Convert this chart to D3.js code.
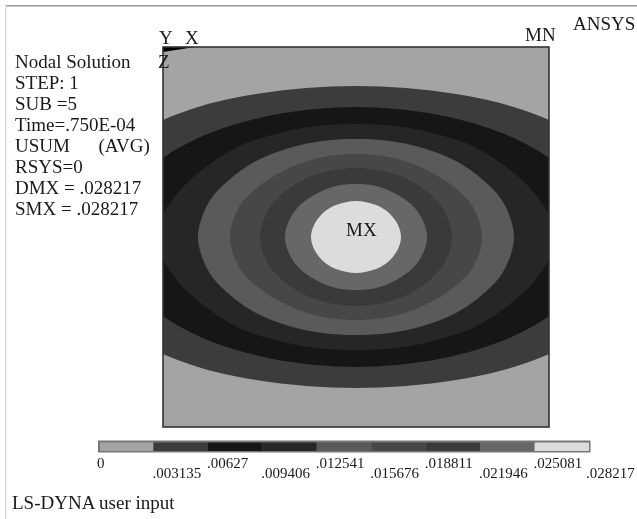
<!DOCTYPE html>
<html>
<head>
<meta charset="utf-8">
<script src="https://cdn.jsdelivr.net/npm/d3@7"></script>
<style>
  html, body { margin: 0; padding: 0; background: #fff; }
  svg { display: block; filter: blur(0.45px); }
  text { font-family: "Liberation Serif", serif; fill: #1a1a1a; white-space: pre; }
</style>
</head>
<body>
<script>
const legendLabels = ['0', '.003135', '.00627', '.009406', '.012541', '.015676', '.018811', '.021946', '.025081', '.028217'];
const bandColors = ['#a4a4a4', '#3c3c3c', '#161616', '#262626', '#5a5a5a', '#474747', '#3a3a3a', '#676767', '#dcdcdc'];

const infoLines = ['Nodal Solution', 'STEP: 1', 'SUB =5', 'Time=.750E-04', 'USUM      (AVG)', 'RSYS=0', 'DMX = .028217', 'SMX = .028217'];

// contour outlines, upper right quadrant only, as offsets from the centre of the plate
const contour1 = [[0, 151], [50, 149], [100, 143], [140, 135], [167, 127], [193, 117], [240, 95], [285, 58], [309, 0]];
const contour2 = [[0, 130], [40, 128], [83, 122], [123, 112], [160, 98], [193, 79], [225, 49], [243, 0]];
const contour3 = [[0, 113], [40, 111], [80, 103], [117, 91], [150, 70], [173, 50], [192, 24], [198, 0]];
const contour4 = [[0, 98], [33, 96], [67, 89], [100, 76], [127, 57], [147, 35], [158, 0]];
const contour5 = [[0, 83], [33, 80], [67, 69], [97, 51], [117, 30], [126, 0]];
const contour6 = [[0, 69], [27, 66], [53, 57], [77, 40], [90, 23], [96, 0]];
const contour7 = [[0, 53], [20, 51], [40, 43], [58, 30], [68, 14], [71, 0]];
const contour8 = [[0, 36], [20, 32], [33, 24], [42, 12], [45, 0]];
const contours = [contour1, contour2, contour3, contour4, contour5, contour6, contour7, contour8];

const triad = [[-193, 190], [-161, 190], [-193, 185]];

const width = 637, height = 519;
const svg = d3.select('body').append('svg')
  .attr('width', width)
  .attr('height', height);

// outer frame of the screen grab
svg.append('line').attr('x1', 5).attr('x2', width).attr('y1', 5.7).attr('y2', 5.7)
  .attr('stroke', '#9a9a9a').attr('stroke-width', 1.6);
svg.append('line').attr('x1', 5.7).attr('x2', 5.7).attr('y1', 5).attr('y2', height)
  .attr('stroke', '#d8d8d8').attr('stroke-width', 1.4);

const x = d3.scaleLinear().domain([-193, 193]).range([163, 549]);
const y = d3.scaleLinear().domain([-190, 190]).range([427, 47]);

svg.append('clipPath').attr('id', 'plate')
  .append('rect')
  .attr('x', x(-193)).attr('y', y(190))
  .attr('width', x(193) - x(-193)).attr('height', y(-190) - y(190));

const plate = svg.append('g').attr('clip-path', 'url(#plate)');

plate.append('rect')
  .attr('x', x(-193)).attr('y', y(190))
  .attr('width', x(193) - x(-193)).attr('height', y(-190) - y(190))
  .attr('fill', bandColors[0]);

// mirror a quadrant into a full closed outline
function fullOutline(q) {
  const lowerRight = q.slice(0, -1).reverse().map(d => [d[0], -d[1]]);
  const lowerLeft = q.slice(1).map(d => [-d[0], -d[1]]);
  const upperLeft = q.slice(1, -1).reverse().map(d => [-d[0], d[1]]);
  return q.concat(lowerRight, lowerLeft, upperLeft);
}

const outline = d3.line()
  .x(d => x(d[0]))
  .y(d => y(d[1]))
  .curve(d3.curveCatmullRomClosed.alpha(0.5));

plate.selectAll('path.band')
  .data(contours)
  .enter()
  .append('path')
  .attr('class', 'band')
  .attr('d', d => outline(fullOutline(d)))
  .attr('fill', (d, i) => bandColors[i + 1]);

plate.append('path')
  .attr('d', d3.line().x(d => x(d[0])).y(d => y(d[1]))(triad) + 'Z')
  .attr('fill', '#000');

svg.append('rect')
  .attr('x', x(-193)).attr('y', y(190))
  .attr('width', x(193) - x(-193)).attr('height', y(-190) - y(190))
  .attr('fill', 'none')
  .attr('stroke', '#333')
  .attr('stroke-width', 1.6);

// left hand info block
svg.selectAll('text.info')
  .data(infoLines)
  .enter()
  .append('text')
  .attr('class', 'info')
  .attr('x', 15)
  .attr('y', (d, i) => 68 + i * 21)
  .style('font-size', '19px')
  .text(d => d);

const notes = [['Y', 159, 44], ['X', 185, 44], ['Z', 158, 68], ['MN', 525, 41], ['ANSYS', 573, 30], ['MX', 346, 236], ['LS-DYNA user input', 12, 509]];
svg.selectAll('text.note')
  .data(notes)
  .enter()
  .append('text')
  .attr('class', 'note')
  .attr('x', d => d[1])
  .attr('y', d => d[2])
  .style('font-size', '19px')
  .text(d => d[0]);

// legend bar
const legendX = d3.scaleBand()
  .domain(d3.range(bandColors.length))
  .range([99, 589]);

svg.append('rect')
  .attr('x', 98).attr('y', 440.5)
  .attr('width', 492.5).attr('height', 12)
  .attr('fill', '#777');

svg.append('g').selectAll('rect')
  .data(bandColors)
  .enter()
  .append('rect')
  .attr('x', (d, i) => legendX(i) + (i === 0 ? 1 : 0))
  .attr('y', 442.5)
  .attr('width', (d, i) => legendX.bandwidth() - (i === 0 ? 1 : 0))
  .attr('height', 8.5)
  .attr('fill', d => d);

svg.append('g').selectAll('text')
  .data(legendLabels)
  .enter()
  .append('text')
  .attr('x', (d, i) => i === bandColors.length ? 586 : (legendX(i) || 99) + (i === 0 ? -2 : -1))
  .attr('y', (d, i) => i % 2 === 0 ? 468 : 478)
  .style('font-size', '15px')
  .text(d => d);
</script>
</body>
</html>
